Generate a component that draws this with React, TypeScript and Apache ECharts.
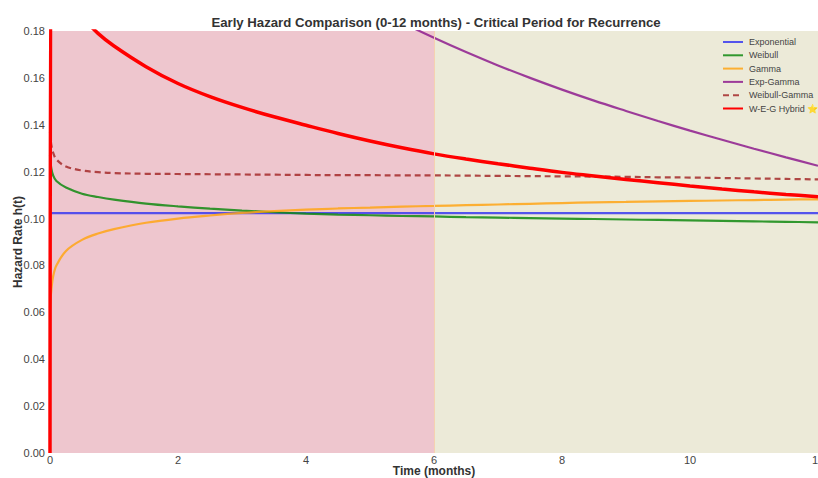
import React, { useEffect, useRef } from "react";
import * as echarts from "echarts";

const T = [0, 0.02, 0.05, 0.1, 0.25, 0.5, 0.75, 1, 1.5, 2, 2.5, 3, 3.5, 4, 4.5, 5, 5.5, 6, 6.5, 7, 7.5, 8, 8.5, 9, 9.5, 10, 10.5, 11, 11.5, 12];

const exponential = [0.1023, 0.1023, 0.1023, 0.1023, 0.1023, 0.1023, 0.1023, 0.1023, 0.1023, 0.1023, 0.1023, 0.1023, 0.1023, 0.1023, 0.1023, 0.1023, 0.1023, 0.1023, 0.1023, 0.1023, 0.1023, 0.1023, 0.1023, 0.1023, 0.1023, 0.1023, 0.1023, 0.1023, 0.1023, 0.1023];
const weibull = [0.127, 0.1215, 0.1183, 0.116, 0.1132, 0.1106, 0.1092, 0.1081, 0.1064, 0.1052, 0.1042, 0.1034, 0.1027, 0.1021, 0.1017, 0.1014, 0.1011, 0.1009, 0.1006, 0.1004, 0.1002, 0.1, 0.0998, 0.0996, 0.0994, 0.0992, 0.099, 0.0988, 0.0986, 0.0984];
const gamma = [0.062, 0.0693, 0.0755, 0.08, 0.0862, 0.0909, 0.0936, 0.0955, 0.0982, 0.1, 0.1013, 0.1024, 0.1032, 0.1038, 0.1043, 0.1047, 0.1051, 0.1054, 0.1057, 0.106, 0.1063, 0.1066, 0.1069, 0.1071, 0.1073, 0.1075, 0.1077, 0.1079, 0.1081, 0.1082];
const expGamma = [0.286, 0.2857, 0.285, 0.284, 0.2805, 0.275, 0.2695, 0.264, 0.2535, 0.243, 0.233, 0.2235, 0.2145, 0.206, 0.198, 0.1905, 0.1836, 0.1771, 0.171, 0.1653, 0.16, 0.155, 0.1503, 0.1459, 0.1416, 0.1375, 0.1336, 0.1298, 0.1261, 0.1225];
const weibullGamma = [0.137, 0.1315, 0.128, 0.1252, 0.1222, 0.1205, 0.1198, 0.1194, 0.1191, 0.119, 0.1189, 0.1188, 0.1187, 0.1186, 0.1185, 0.1185, 0.1184, 0.1184, 0.1183, 0.1182, 0.1181, 0.118, 0.1179, 0.1178, 0.1176, 0.1175, 0.1173, 0.1171, 0.1169, 0.1167];
const hybrid = [0, 0.25, 0.215, 0.205, 0.194, 0.186, 0.179, 0.1736, 0.1648, 0.1576, 0.152, 0.1474, 0.1434, 0.1398, 0.1363, 0.1331, 0.1302, 0.1276, 0.1254, 0.1234, 0.1215, 0.1197, 0.1182, 0.1167, 0.1153, 0.1139, 0.1126, 0.1114, 0.1103, 0.1093];

const names = ["Exponential", "Weibull", "Gamma", "Exp-Gamma", "Weibull-Gamma", "W-E-G Hybrid ⭐"];
const xTicks = [0, 2, 4, 6, 8, 10, 12];
const yTicks = [0, 0.02, 0.04, 0.06, 0.08, 0.1, 0.12, 0.14, 0.16, 0.18];

const FONT = "'Liberation Sans', Arial, sans-serif";

const pairs = (v: number[]) => T.map((t, i) => [t, v[i]]);

export default function App() {
  const ref = useRef<HTMLDivElement>(null);
  useEffect(() => {
    if (!ref.current) return;
    const chart = echarts.init(ref.current, undefined, { renderer: "svg" });
    const mk = (name: string, data: number[], color: string, width: number, type: any = "solid", opacity = 0.85) => ({
      name,
      type: "line",
      data: pairs(data),
      showSymbol: false,
      symbol: "none",
      smooth: 0.35,
      clip: true,
      lineStyle: { color, width, type, opacity },
      itemStyle: { color },
      emphasis: { disabled: true },
    });
    chart.setOption({
      animation: false,
      backgroundColor: "#ffffff",
      textStyle: { fontFamily: FONT },
      title: {
        text: "Early Hazard Comparison (0-12 months) - Critical Period for Recurrence",
        left: 431,
        top: 11,
        textAlign: "center",
        textStyle: { fontFamily: FONT, fontSize: 13.2, fontWeight: "bold", color: "#333" },
      },
      legend: {
        data: names,
        orient: "vertical",
        left: 722,
        top: 37,
        padding: 0,
        itemWidth: 20,
        itemHeight: 10,
        itemGap: 3.3,
        itemStyle: { opacity: 0, borderWidth: 0 },
        textStyle: { fontFamily: FONT, fontSize: 9, color: "#444", padding: [0, 0, 0, 1], lineHeight: 10 },
      },
      grid: { left: 50, right: 0, top: 31, bottom: 25, containLabel: false, outerBoundsMode: "none" },
      xAxis: {
        type: "value",
        min: 0,
        max: 12,
        interval: 2,
        name: "Time (months)",
        nameLocation: "middle",
        nameGap: 12,
        nameMoveOverlap: false,
        nameTextStyle: { fontFamily: FONT, fontSize: 12, fontWeight: "bold", color: "#333" },
        axisLine: { show: false },
        axisTick: { show: false },
        splitLine: { show: false },
        axisLabel: { fontSize: 11, color: "#444", margin: 1, formatter: (v: number) => (xTicks.includes(v) ? String(v) : "") },
      },
      yAxis: {
        type: "value",
        min: 0,
        max: 0.18,
        interval: 0.02,
        name: "Hazard Rate h(t)",
        nameLocation: "middle",
        nameGap: 26,
        nameMoveOverlap: false,
        nameTextStyle: { fontFamily: FONT, fontSize: 12, fontWeight: "bold", color: "#333" },
        axisLine: { show: false },
        axisTick: { show: false },
        splitLine: { show: false },
        axisLabel: { fontSize: 11, color: "#444", margin: 5, formatter: (v: number) => (yTicks.some((y) => Math.abs(y - v) < 1e-9) ? v.toFixed(2) : "") },
      },
      series: [
        {
          type: "line",
          data: [],
          silent: true,
          markArea: {
            silent: true,
            data: [
              [{ xAxis: 0, itemStyle: { color: "#eec6ce" } }, { xAxis: 6 }],
              [{ xAxis: 6, itemStyle: { color: "#ecead8" } }, { xAxis: 12 }],
            ],
          },
          markLine: {
            silent: true,
            symbol: "none",
            label: { show: false },
            lineStyle: { color: "#f5d2b0", width: 1, type: "solid" },
            data: [{ xAxis: 6 }],
          },
        },
        mk(names[0], exponential, "#3a3af0", 2.2),
        mk(names[1], weibull, "#108a10", 2.2),
        mk(names[2], gamma, "#ffa515", 2.2),
        mk(names[3], expGamma, "#8e1c8e", 2.2),
        mk(names[4], weibullGamma, "#a52a2a", 2.2, [6, 4]),
        mk(names[5], hybrid, "#ff0000", 3.5, "solid", 1),
      ],
    });
    return () => chart.dispose();
  }, []);
  return <div ref={ref} style={{ position: "absolute", left: 0, top: 0, width: 818, height: 478 }} />;
}
